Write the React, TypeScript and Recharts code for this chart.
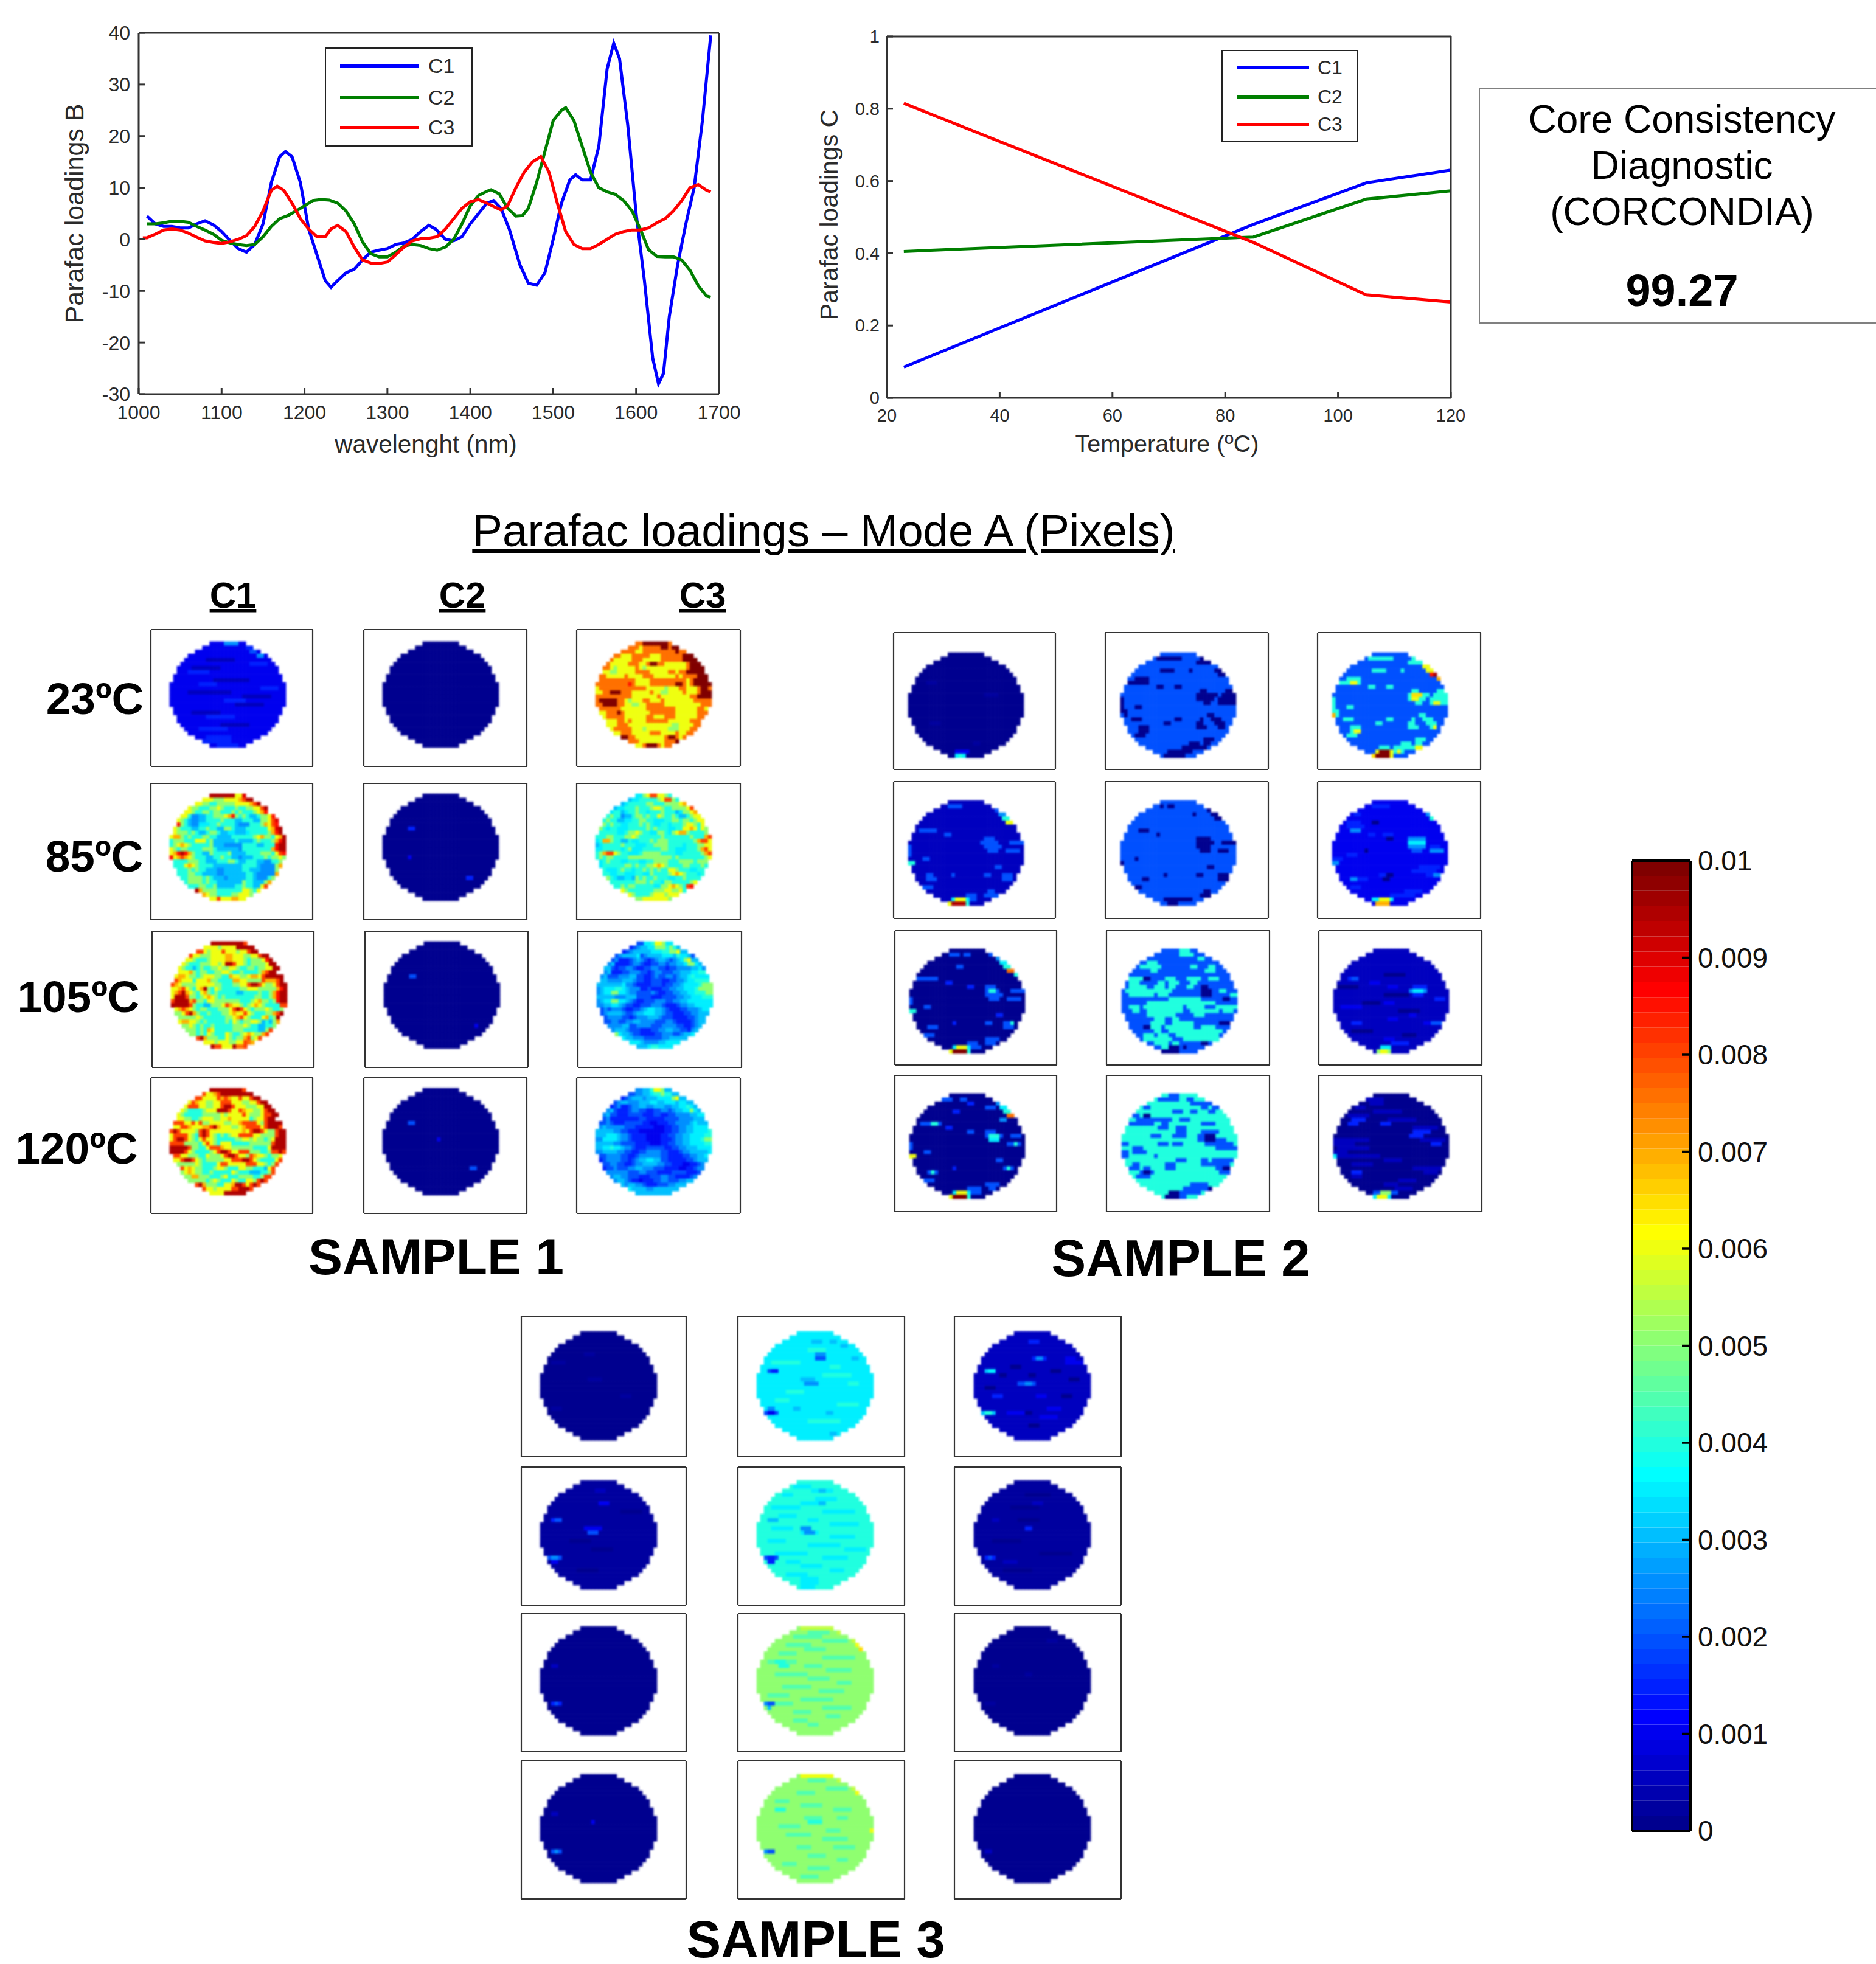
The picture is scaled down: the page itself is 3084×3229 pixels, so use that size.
import React from 'react';
import { LineChart, Line, XAxis, YAxis, Legend, ScatterChart, Scatter, BarChart, Bar } from 'recharts';

const FONT = '"Liberation Sans", Arial, sans-serif';
const INK = '#2a2a2a';
const BLUE = '#0000ff';
const GREEN = '#007f00';
const RED = '#ff0000';

// ---------- Mode B loadings ----------
const c1Nm = [1010,1020,1030,1040,1050,1060,1070,1080,1090,1100,1110,1120,1130,1140,1150,1160,1170,1177,1185,1195,1205,1215,1225,1232,1240,1250,1260,1270,1280,1290,1300,1310,1320,1330,1340,1350,1358,1370,1380,1390,1400,1410,1420,1428,1437,1447,1460,1470,1480,1490,1500,1510,1520,1527,1535,1545,1555,1565,1573,1580,1590,1600,1610,1620,1627,1633,1640,1650,1660,1670,1680,1690];
const c1B = [4.5,3,2.5,2.5,2.2,2.2,3,3.6,2.8,1.5,-0.2,-1.8,-2.5,-1,3,11,16,17,16,11,2,-3,-8,-9.3,-8,-6.5,-5.8,-4,-2.5,-2.1,-1.8,-1,-0.7,0,1.5,2.7,2,0,-0.3,0.5,3,5,7,7.5,6,2,-5,-8.5,-8.9,-6.5,0,7,11.5,12.5,11.5,11.5,18,33,38,35,22,5,-8,-23,-28,-26,-15,-5,3,10,23,39.5];
const c2Nm = [1010,1020,1030,1040,1050,1060,1070,1080,1090,1100,1110,1120,1130,1140,1150,1160,1170,1180,1190,1200,1210,1220,1230,1240,1250,1260,1270,1280,1290,1300,1310,1320,1330,1340,1350,1360,1370,1380,1390,1400,1410,1420,1425,1435,1445,1455,1463,1470,1480,1490,1500,1510,1515,1525,1535,1545,1555,1565,1575,1585,1595,1605,1615,1625,1635,1645,1655,1665,1675,1685,1690];
const c2B = [3,3,3.2,3.5,3.5,3.3,2.5,1.8,1,-0.2,-0.7,-1,-1.2,-1,0.5,2.5,4,4.6,5.5,6.5,7.5,7.7,7.6,7,5.5,3,-0.5,-2.8,-3.4,-3.4,-2.5,-1.3,-1,-1.2,-1.8,-2.1,-1.5,0,3,6.5,8.5,9.3,9.6,8.8,6,4.5,4.6,6,11,17,23,25,25.5,23,18,13,10,9.2,8.7,7.5,5.5,2,-2,-3.3,-3.4,-3.4,-4,-6,-9,-11,-11.2];
const c3Nm = [1005,1010,1020,1030,1040,1050,1060,1070,1080,1090,1100,1110,1120,1130,1140,1150,1160,1167,1175,1185,1195,1205,1215,1225,1232,1240,1250,1260,1270,1280,1290,1300,1310,1320,1330,1340,1350,1360,1370,1380,1390,1400,1410,1420,1430,1437,1445,1455,1465,1475,1485,1495,1505,1515,1525,1535,1545,1555,1565,1575,1585,1595,1605,1615,1625,1635,1645,1655,1665,1675,1685,1690];
const c3B = [0.3,0.3,1,1.8,2,1.8,1.2,0.4,-0.3,-0.6,-0.8,-0.5,0,0.7,2.5,5.5,9.5,10.3,9.5,7,4,2,0.5,0.5,2,2.7,1.5,-1.5,-4,-4.6,-4.7,-4.4,-3,-1.5,-0.3,0.1,0.2,0.5,2,4,6,7.3,7.7,7,6.2,5.7,6.5,10,13,15,16,13,7,1.5,-1,-1.8,-1.8,-1,0,1,1.5,1.8,1.8,2.2,3.2,4,5.5,7.5,10,10.6,9.5,9.2];
const bXTicks = [1000,1100,1200,1300,1400,1500,1600,1700];
const bYTicks = [-30,-20,-10,0,10,20,30,40];

// ---------- Mode C loadings ----------
const temperatures = [23,85,105,120];
const c1C = [0.085,0.48,0.595,0.63];
const c2C = [0.405,0.445,0.55,0.573];
const c3C = [0.815,0.43,0.285,0.265];
const cXTicks = [20,40,60,80,100,120];
const cYTicks = [0,0.2,0.4,0.6,0.8,1];

// ---------- Colour bar ----------
const cbTicks = [0,0.001,0.002,0.003,0.004,0.005,0.006,0.007,0.008,0.009,0.01];
const cbMax = 0.01;

// ---------- Mode A loadings: per-pixel codes ----------
// '0'..'k' is value / 0.0005, 'z' is 0.00025. A panel is 26 rows, or [base code, "row col length code;..."]
const s1c1 = [
 ['2','4 10 8 1;6 6 8 1;9 12 10 1;12 5 12 1;13 20 8 1;15 18 8 1;17 6 8 1;20 14 8 1;0 15 4 5;1 21 2 3;2 22 2 4;3 24 2 5;5 22 5 3;7 5 6 3;10 8 5 3;11 25 5 3;14 15 6 3;18 10 8 3;21 8 8 3;23 10 7 3;24 9 8 3;25 13 6 3'],
 ["jjjjjjjcci","cccaaaccccegjj","ccaa88aaaaaccccegj","caa888aaca888a88aaccgj","cca88aa8aa888a8a888aceh","cc8556688aaaceha8a8668aach","ca8655668888a8886688866aacgi","ha865577788a88886555888aecgh","ca8886688a8866aa8666888888ceij","caaa8a8668aa86677666788888aehj","ceea8a888aa886666888888aceaa8cej","8aaa888ccc8a666666866668a888aehj","8aceca88888a66655555888866888hjj","ca8aa8888aaa8666666588888888ehjj","cehjhea8866a8888a66668888aaa8cgh","hcegeca8886688a88665666888a8aaca","8888aaa88666888aa866888665588ac","888ceca888866666666888865555aeg","888a8a886665566666886665555a","888aa8866665566666688655555e","88aaaa8a86665666668865558a","8aaaa8a886666666a88666ae","888aa88a6666688a8866cg","jeaaaa8888888cca8c","ecaa8888aaccca","ccgccceecc"],
 ["jjjjjjjjjg","ccccaccccjjjjj","ggcacccgcccaccgjj","gccaaacccceecccaaccgjj","cca888acccceeccca8aaachj","ca888aaaccacjjgcca8aaaacjj","ca8868a88aacaacca88aa8aaccjj","cccea8aa88aacca88a8888aegjj","ceecaa8acccaa88eccaaceecgjjjjj","geccc8ccceaa8888eeccaaaageeegj","gecaaaacccccaa888aaccgjjgcaacgjj","ccegca8ceja8ca88888aacccaaaaaehj","cegjeca8cea8a88888668888a88aehjj","cjjjgaa8aceca8a88888888aa88aehjj","gjjjjegaa8ccaaaaaaa888aceaa8ahjj","jjjjjga8866aaacgecca8aceca8888gg","cegeca8aa888aaacgjgca8aaaca88a","aacgjea88a888aaceccgca888aaegj","aaaaaca888888aacegca888ce8aj","ceecca8a88888a8ca8aacca686ae","aaca8a88a88888aaaca886688a","aaa8a8ec88888aaa888866ag","aa8a8ca888ca88acecaaeg","gjeaaa88ca8aaegacg","cccacccaaccgfe","jggcccjffg"],
 ["jjjjjjjjjg","gccegjjjjjjjjj","ggccccgegeccgccgjj","cgeccaaccgggcccaaccgjj","cgggccaaccgjjgcccaaaccjj","ca8888acccjjjgccgeccaacgjj","ca88888aaaaacaccccgcaaacggjj","ccaa88acccaacceccccc8accgjj","gggccgcgaaccccaacceggggcagjjjj","ccggeccceegjecccaaceggggcgjjjg","gjgccccagjgcccccccccecgjjgcaagjj","cggggca8gjgca8a8accggggccaaaagjj","cgjjgca8cgcca88888aaccacaa8acjjj","ggggaaaa8cgca8ccc88888aaaaaagjjj","jjjjjgaa88cgggeccaaaaaa8888cjjjj","jjjjgca8888acgjjgccgggaaa88aggjg","ggccaaa88caaacgjjgccagecca8aac","ccgjjgca8aaaaaccgggjjgca8888cg","aaaaaca8888cggcccccgggcca8ag","gcecaa888acca888ccaa8886cg","acecaa88a88888ca88866688ag","aaeeaaa888ac888aaaa88agg","aaaaa8aca888ca88ccagjg","gjeaaa88ccejjgcgjg","gccaccccggjjjg","ccccjjjjjj"],
];
const s1c2 = [
 ['0',''],
 ['0','8 7 2 3;15 7 1 2;20 23 2 3'],
 ['0','8 7 2 4;20 25 1 2'],
 ['0','8 7 2 4;19 24 2 4;12 15 1 2'],
];
const s1c3 = [
 ["ffkkkkkkkf","fffcfffffkkfkk","ffffccfffffffffkff","ffcccfffffcccffffffkkk","fcccccfffcccccffffffkkkk","fcccccfffccfkkffccccccfkkk","ffcacccccfcacccccccccccfkkkk","ccaacccccffffcccccffcffkkkkk","ffcccccfccccfffccccccfcffffkkk","ffffffffffccccffffffffffcfkkkk","fffffffffhfccccfffffffkkfcfkkkkk","cfffffffffffffcccccacccffcccfkkf","ccffkkkfffcccccfccaaccccfcccfkkk","ffffffffffcccccccfccccccccffkkkk","fkkkkkffcacccffcccfccccccccfffff","ffkkkkffccaaccfffffccccccccccfff","ffffffcccccccffffffffccccccffc","ccfffkfcccccccfffffffccccccfff","cfffffccccccffcccfffccccccff","cccffcfccccffffffccccccfff","cccfffccccccccccccaaccccff","cfffffcccaccccccaaacccff","ccfffcccccfffccccfccff","kkffccccccccfkkfcf","fffcccccccfffk","ccfkkkfcff"],
 ["77acggcca8","67788888acgga8","6788888aa888aaaace","677888a888acca88aaaacg","7886788a887888a88867aace","8a885668aa8a88ca88a8668acc","8a88667788aa8877788aa8aa8acc","a8a8877888a8a877887888acca8c","a878877788888a8a8887788ccec8ca","88888778aaca8877aa87aceea8888a","888aa888aaca888888a8888888a888eg","78eea8866877888a8aaa8888888aeggc","6788888a88877788aaaa88887888aacc","778888878a77788888aa88777888aegc","8aeggca887778aaaaa88887788888aeg","8a8aa8888aaaaaaaaaaaa8a8888888ac","78a888778887788aaaa888aaaa8aaa","7888888aa8a88aaceca8888aa888a8","87778a88788a8a8a88cca8887788","8877887778877a8888aceca88878","a8766776a8a88a8887788a8888","8888888aaa8a887aa88888ac","88a8aa8888877aaceca8gh","ca8888888aaaccaac8","ca8888acccaccc","aaccccccca"],
 ["44778cca77","3456677aaa8a86","3456666677788aac66","4566667456666777687764","45333456543456654567ac66","5633334554334455455667aa76","6643445543344554434455556675","5633344555443455444556667788","564445556644334544554566787777","665555666544334443344556778888","66666667554333344434455677778aaa","5677788765553343334455667778aaaa","5677aa776554444543344556677888aa","66666555666444433344445566777888","5677aa77654334445554455667777777","55667765443344455543334556677777","454555433445677665433344555677","456666544566777665443334455666","4555544345556665444333344566","4455445566555544455433334566","55556644555544455554433456","566654443334455665544356","a766544333344555445667","766555444445566666","77765555667777","6667887777"],
 ["55668cca66","445566788a8866","34566656667777ac66","4566555666776677767766","345334556655666556677876","56433345544334455456677a76","5644333444433344334455556677","4533333333443333344445555666","445433344444332233344555567666","565555544433333222334455667777","66666554433322222223344556677778","66677765543333222233445566777788","557777655433332222333455667778aa","66666554444333322233445566777788","66778776554333444443344556667777","55666655443344555544333455666667","445555443345555554433334455667","345555443456677664433333445666","4455443345566665544333223345","3445444556655544433332233455","55555544455444333344443334","566554443334445544333345","5665433233344554445566","656655433344455666","76666556666666","6666666666"],
];
const s2c1 = [
 ['0','7 5 3 z;10 21 4 z;17 6 3 z;22 18 2 z;24 13 4 2;25 13 3 7;25 14 1 8'],
 ['1','1 11 4 4;7 3 5 4;8 10 2 4;9 21 3 4;10 20 5 4;11 21 5 4;12 22 3 4;10 28 4 4;12 27 4 4;11 0 1 4;12 0 1 4;13 0 1 4;15 0 2 8;14 4 2 4;16 24 2 4;16 31 1 4;18 12 1 4;18 21 2 4;18 5 2 4;19 5 3 4;18 26 3 4;19 26 3 4;21 4 3 4;23 16 3 4;24 16 3 4;22 22 2 4;23 21 4 4;24 12 5 7;24 13 3 c;25 12 4 j;25 11 1 c;25 16 1 8;2 24 2 4;3 25 2 5;4 26 2 8;5 27 2 c'],
 ['0','1 11 3 4;1 15 2 4;4 13 2 4;7 2 6 4;8 10 2 3;9 16 2 3;9 21 3 4;10 21 4 4;10 22 2 8;11 21 5 4;12 22 3 4;10 28 4 4;12 27 4 4;12 0 1 4;13 0 1 4;15 0 2 8;14 4 2 4;16 24 2 3;18 12 1 3;18 21 2 4;18 26 3 4;18 28 1 8;19 5 3 4;19 26 3 4;21 4 3 4;23 16 3 4;24 16 4 4;22 21 4 4;23 21 3 4;24 12 5 7;24 13 3 c;25 12 4 k;25 11 1 c;25 16 1 8;1 22 2 4;2 24 2 5;3 25 2 7;4 26 2 8;5 27 2 f;6 29 1 8'],
 ['0','1 9 3 4;1 14 2 4;2 16 2 3;3 21 3 4;4 12 2 3;6 25 2 5;7 3 2 4;7 4 5 4;7 6 2 8;8 10 2 3;9 16 2 4;9 21 3 4;10 21 5 4;10 22 3 8;11 22 3 7;12 27 4 4;12 29 1 8;10 28 3 4;12 0 1 4;13 0 1 4;14 4 2 4;15 0 2 c;16 24 2 4;18 12 1 3;18 26 3 4;18 27 1 8;19 5 3 4;19 6 1 8;21 4 3 4;23 16 4 4;24 16 4 4;22 21 4 4;23 22 2 4;24 12 5 7;24 13 3 c;25 12 4 k;25 11 1 c;25 16 1 8;2 24 2 5;3 25 2 7;4 26 2 8;5 27 2 f'],
];
const s2c2 = [
 ['4','1 10 7 0;2 21 6 0;1 22 3 0;5 27 3 0;4 26 3 0;4 11 4 0;4 19 1 0;6 4 4 0;7 2 6 0;8 10 2 0;8 15 2 0;9 22 2 0;10 21 6 0;11 21 5 0;12 23 2 0;10 28 4 0;11 27 5 0;12 27 5 0;9 29 2 0;11 0 1 0;12 0 1 0;13 0 1 0;14 0 2 0;15 1 1 0;13 4 2 0;16 3 3 0;18 5 3 0;19 5 3 0;20 4 3 0;16 15 2 0;17 12 2 0;16 22 1 0;17 21 2 0;18 21 3 0;15 24 2 0;16 25 3 0;17 26 3 0;18 27 2 0;16 31 1 0;25 12 6 0;24 13 7 0;23 17 4 0;22 19 3 0;22 23 2 0;21 23 3 0;23 21 3 0'],
 ['4','1 13 2 0;1 11 1 0;3 20 1 0;2 24 2 0;3 25 2 0;4 26 2 0;7 5 3 0;8 10 1 0;9 21 4 0;10 21 5 0;11 21 4 0;12 22 3 0;10 28 4 0;12 27 3 0;15 0 1 0;14 4 1 0;16 24 2 0;18 12 1 0;18 21 2 0;18 27 3 0;19 27 3 0;19 6 2 0;21 4 2 0;23 22 3 0;22 23 2 0;24 12 5 0;25 13 3 0;24 17 3 0'],
 ['4','0 16 3 8;1 16 4 8;2 21 2 8;3 7 3 8;4 5 6 8;4 19 2 8;4 24 2 8;5 8 2 8;5 23 3 8;7 2 4 8;7 12 3 8;7 18 4 8;7 24 3 8;8 2 3 8;8 10 2 8;8 13 3 8;8 19 2 8;9 2 5 8;9 9 3 8;9 13 2 8;9 18 2 8;10 1 10 8;10 11 3 8;10 27 2 8;11 2 7 8;11 10 3 8;11 30 2 8;12 13 9 8;13 7 9 8;13 16 10 8;14 2 3 8;14 6 5 8;14 11 6 8;14 18 5 8;14 26 6 8;15 3 2 8;15 7 10 8;15 19 8 8;15 28 3 8;16 7 8 8;16 20 3 8;17 9 3 8;17 14 2 8;18 8 4 8;18 14 6 8;19 8 3 8;19 12 8 8;19 22 4 8;20 9 2 8;20 13 15 8;21 6 3 8;21 10 3 8;21 15 12 8;22 6 8 8;22 17 8 8;22 25 3 8;23 9 4 8;23 14 2 8;24 11 3 8;9 22 2 0;10 22 3 0;11 22 3 0;12 28 2 0;7 6 2 0;19 6 2 0;18 27 3 0;25 11 5 0;24 13 3 0;23 22 2 0;24 17 1 0'],
 ['8','0 13 3 4;1 10 6 4;1 18 2 4;2 19 6 4;3 22 2 4;3 6 2 4;3 25 3 4;4 14 3 4;4 19 2 4;4 24 2 4;5 3 2 4;6 4 6 4;6 10 4 4;6 16 3 4;7 2 7 4;7 11 2 4;7 22 4 4;8 10 3 4;8 15 3 4;9 15 3 4;9 22 5 4;10 8 3 4;10 14 4 4;10 21 5 4;11 21 8 4;12 0 2 4;12 10 3 4;12 14 3 4;12 23 8 4;13 3 3 4;13 26 6 4;14 0 2 4;14 3 4 4;15 0 2 4;15 9 1 4;16 15 3 4;16 22 2 4;16 25 6 4;17 3 2 4;17 12 3 4;17 22 3 4;17 25 5 4;18 2 3 4;18 6 2 4;18 12 3 4;18 26 5 4;19 5 4 4;19 27 3 4;20 4 4 4;23 17 8 4;24 13 9 4;25 13 5 4;22 19 5 4;5 6 2 0;10 23 3 0;11 23 3 0;18 28 2 0;19 6 2 0;25 12 4 0;24 13 3 0;23 24 1 0'],
];
const s2c3 = [
 ['4','1 10 7 8;2 21 5 8;1 22 2 8;4 11 4 8;4 19 1 8;5 27 3 8;6 4 4 8;7 2 6 8;8 10 2 8;8 15 2 8;9 22 2 8;10 21 6 8;11 21 5 8;12 23 2 8;10 28 4 8;11 27 5 8;12 27 5 8;9 29 2 8;11 0 1 8;12 0 1 8;13 0 1 8;14 0 2 8;15 0 2 8;13 4 2 8;16 3 3 8;18 5 3 8;19 5 3 8;20 4 3 8;16 15 2 8;17 12 2 8;16 22 1 8;17 21 2 8;18 21 3 8;15 24 2 8;16 25 3 8;17 26 3 8;18 27 2 8;16 31 1 8;23 17 4 8;22 19 3 8;22 23 2 8;21 23 3 8;23 21 3 8;24 17 3 8;7 5 2 c;10 22 3 d;11 22 2 c;12 28 2 c;19 6 2 c;18 28 1 c;15 0 1 e;23 23 2 c;24 18 1 c;23 13 3 8;24 12 5 c;24 13 3 k;25 11 1 d;25 12 4 k;25 16 1 c;3 25 2 c;4 26 2 c;5 27 2 h;5 28 1 j;6 29 1 e'],
 ['2','1 11 5 3;3 6 2 3;5 4 4 3;6 4 5 3;7 5 3 5;8 10 2 3;8 14 3 3;9 21 5 5;10 21 5 7;11 21 5 5;12 22 3 4;12 27 4 5;11 27 3 3;14 0 3 3;13 4 3 3;15 0 2 5;16 24 6 3;17 22 7 3;18 26 4 3;18 28 2 5;19 5 4 5;18 13 3 3;19 7 3 3;21 5 3 3;22 20 5 3;23 16 7 3;24 11 6 7;24 13 3 c;25 12 4 e;4 27 1 8;3 26 1 5;5 11 2 0;9 15 2 0;12 9 1 0;18 15 2 0;19 14 2 0'],
 ['1','7 4 3 3;7 5 2 4;8 10 3 2;9 15 3 2;9 22 4 3;10 21 5 5;10 22 3 7;11 22 3 3;12 28 3 3;14 2 6 2;13 14 3 2;18 25 5 2;18 27 3 4;18 5 3 3;17 15 3 2;16 21 2 2;22 14 3 2;23 16 5 3;24 13 3 7;25 12 4 a;25 13 2 c;3 27 1 5;4 28 1 7;9 1 6 0;11 14 7 0;13 8 5 0;15 18 6 0;20 5 6 0;21 19 4 0;6 14 6 0'],
 ['0','1 8 6 1;2 10 4 1;3 6 3 1;4 11 8 1;5 4 6 1;6 5 4 3;7 4 3 3;6 15 8 1;7 13 3 3;8 22 7 1;9 22 5 3;10 21 4 3;11 24 7 1;12 27 3 3;11 0 10 1;12 0 6 1;13 1 9 1;14 0 4 1;15 1 12 1;15 0 1 7;16 14 5 1;17 5 6 1;18 22 8 1;19 5 3 3;19 25 4 1;20 5 3 1;21 18 5 1;22 14 4 1;23 17 5 1;24 11 7 4;24 13 3 a;25 11 1 7;25 12 3 c;25 15 1 7;3 27 1 7'],
];
const s3c1 = [
 ['0','7 3 4 z;18 3 3 z;11 13 4 z;15 22 3 z;5 12 3 z'],
 ['z','9 3 3 3;9 4 2 4;11 12 5 2;12 13 3 4;18 2 4 4;19 3 2 2;18 3 2 5;5 16 3 2;2 15 3 1;14 8 6 0;7 22 6 0;16 14 6 0;21 10 6 0'],
 ['0','9 3 2 1;18 3 3 3;18 4 1 4'],
 ['0','9 3 2 1;18 3 3 4;18 4 1 5;11 14 1 2'],
];
const s3c2 = [
 ['7','7 4 8 8;14 8 5 8;10 18 8 8;21 14 9 8;17 22 6 8;4 14 5 8;8 20 3 8;12 25 3 8;16 5 4 8;9 3 3 4;9 4 2 3;19 2 4 4;19 3 2 2;18 3 2 5;11 12 4 6;12 13 4 5;5 16 3 5;6 16 3 4;2 15 3 6;6 26 2 6;2 20 2 6;18 10 2 6;19 19 2 6;24 20 2 6;3 23 2 6'],
 ['8','1 10 5 7;2 15 6 7;3 7 3 7;4 16 6 7;5 12 5 7;6 4 8 7;7 18 9 7;8 6 5 7;9 14 3 7;10 20 8 7;11 4 6 7;12 12 5 7;13 20 7 7;14 3 5 7;15 14 9 7;16 24 6 7;17 5 9 7;18 18 7 7;19 8 4 7;20 12 6 7;21 20 4 7;22 8 6 7;23 12 5 7;24 12 5 7;25 12 4 7;9 3 3 6;11 12 3 5;12 13 3 5;18 2 4 4;19 3 2 3;18 3 2 3;5 17 2 6;2 17 2 6'],
 ['a','1 14 6 9;2 10 8 9;3 18 7 9;4 8 7 9;5 13 6 9;6 6 5 9;7 18 9 9;8 3 8 9;9 13 5 9;10 19 7 9;11 5 9 9;12 14 6 9;13 22 4 9;14 7 8 9;15 17 7 9;16 3 6 9;17 12 9 9;18 5 5 9;19 18 8 9;20 10 5 9;21 19 4 9;22 10 4 9;23 14 3 9;8 5 3 8;9 6 3 8;18 2 3 5;18 3 2 4;19 3 1 6;0 12 9 b;1 22 4 b;4 27 1 c;5 28 1 d;3 26 1 b'],
 ['a','1 14 5 9;3 19 6 9;4 11 5 9;6 5 4 9;7 12 6 9;8 5 3 8;8 21 5 9;10 13 5 9;10 22 3 9;11 14 4 8;12 6 6 9;13 19 4 9;14 8 7 9;15 18 7 9;17 11 4 9;17 21 6 9;19 14 5 9;20 22 3 9;21 7 4 9;22 14 6 9;24 12 5 9;18 2 3 5;18 3 2 4;0 12 9 c;1 22 3 b;3 26 1 b;4 27 1 c;13 31 1 c'],
];
const s3c3 = [
 ['1','8 10 3 0;10 7 2 0;9 21 3 0;11 26 3 0;18 21 3 0;22 15 3 0;10 15 2 0;15 24 3 0;19 13 3 0;13 3 3 0;9 3 3 6;9 4 2 7;19 2 4 6;19 3 2 8;12 12 5 4;12 14 2 5;6 16 4 3;6 17 2 5;2 15 3 3;15 5 3 3;19 9 5 2;7 25 5 2;6 25 3 2;20 18 5 2;15 17 3 2;18 20 4 2'],
 ['z','14 5 8 0;9 12 6 0;21 8 8 0;6 10 8 0;17 18 9 0;3 14 7 0;18 3 3 3;18 4 1 4;11 14 2 3;5 16 3 1;9 5 2 1;19 8 4 1'],
 ['0','18 3 3 z;11 14 2 z;3 20 3 z;9 5 2 z'],
 ['0','18 3 2 1'],
];

// ---------- Colour map, layout ----------
const CODES = '0123456789abcdefghijk';
const ROW_LEN = [10,14,18,22,24,26,28,28,30,30,32,32,32,32,32,32,30,30,28,28,26,24,22,18,14,10];
const GRID_COLS = 32;
const GRID_ROWS = 26;

function jet(i: number): string {
  const t = (i + 1) / 64;
  const ch = (c: number) => {
    const v = Math.max(0, Math.min(1, 1.5 - Math.abs(4 * t - c)));
    return Math.round(v * 255).toString(16).padStart(2, '0');
  };
  return '#' + ch(3) + ch(2) + ch(1);
}
const codeValue = (c: string) => (c === 'z' ? 0.00025 : CODES.indexOf(c) * 0.0005);
const valueColor = (v: number) => jet(Math.min(63, Math.floor((v / cbMax) * 64)));

function pointsOf(panel: any[]) {
  const rows: string[] = [];
  if (panel.length === 2) {
    const grid = ROW_LEN.map((L) => Array(L).fill(panel[0]));
    String(panel[1]).split(';').filter(Boolean).forEach((s) => {
      const [r, c, n, code] = s.split(' ');
      const start = (GRID_COLS - ROW_LEN[+r]) / 2;
      for (let k = 0; k < +n; k++) {
        const idx = +c + k - start;
        if (idx >= 0 && idx < ROW_LEN[+r]) grid[+r][idx] = code;
      }
    });
    grid.forEach((g) => rows.push(g.join('')));
  } else {
    panel.forEach((s) => rows.push(s));
  }
  const pts: { col: number; row: number; v: number }[] = [];
  rows.forEach((s, r) => {
    const L = ROW_LEN[r];
    const text = s.length > L ? s.slice(Math.floor((s.length - L) / 2), Math.floor((s.length - L) / 2) + L) : s;
    const start = Math.floor((GRID_COLS - text.length) / 2);
    for (let i = 0; i < text.length; i++) pts.push({ col: start + i + 0.5, row: r + 0.5, v: codeValue(text[i]) });
  });
  return pts;
}

function Panel({ panel, x0, x1, y0, y1, left, top, cw, ch }: any) {
  const w = x1 - x0;
  const h = y1 - y0;
  const cellW = cw / GRID_COLS;
  const cellH = ch / GRID_ROWS;
  const xd = [-left / cellW, (w - left) / cellW];
  const yd = [-top / cellH, (h - top) / cellH];
  const xt = [xd[0] + 0.376 * (xd[1] - xd[0]), xd[0] + 0.77 * (xd[1] - xd[0])];
  const yt = [yd[0] + 0.335 * (yd[1] - yd[0]), yd[0] + 0.675 * (yd[1] - yd[0])];
  const pad = 4;
  const axis = { stroke: '#333', strokeWidth: 2.2 };
  const tl = { stroke: '#333', strokeWidth: 2 };
  return (
    <div style={{ position: 'absolute', left: x0 - pad, top: y0 - pad }}>
      <ScatterChart width={w + 2 * pad} height={h + 2 * pad} margin={{ top: pad - 1, right: pad - 1, bottom: pad - 1, left: pad - 1 }}>
        <XAxis xAxisId="b" type="number" dataKey="col" domain={xd} ticks={xt} interval={0} height={1} tick={false} tickSize={-5} axisLine={axis} tickLine={tl} allowDataOverflow />
        <XAxis xAxisId="t" orientation="top" type="number" dataKey="col" domain={xd} ticks={xt} interval={0} height={1} tick={false} tickSize={-5} axisLine={axis} tickLine={tl} allowDataOverflow />
        <YAxis yAxisId="l" type="number" dataKey="row" reversed domain={yd} ticks={yt} interval={0} width={1} tick={false} tickSize={-5} axisLine={axis} tickLine={tl} allowDataOverflow />
        <YAxis yAxisId="r" orientation="right" type="number" dataKey="row" reversed domain={yd} ticks={yt} interval={0} width={1} tick={false} tickSize={-5} axisLine={axis} tickLine={tl} allowDataOverflow />
        <Scatter
          xAxisId="b"
          yAxisId="l"
          data={pointsOf(panel)}
          isAnimationActive={false}
          className="heat"
          shape={(p: any) => (
            <rect x={p.cx - cellW / 2 - 0.3} y={p.cy - cellH / 2 - 0.3} width={cellW + 0.6} height={cellH + 0.6} fill={valueColor(p.payload.v)} />
          )}
        />
      </ScatterChart>
    </div>
  );
}

function T({ x, y, size, bold, underline, color, children }: any) {
  return (
    <div
      style={{
        position: 'absolute', left: x, top: y, transform: 'translate(-50%,-50%)', whiteSpace: 'nowrap',
        fontFamily: FONT, fontSize: size, fontWeight: bold ? 700 : 400, lineHeight: 0.85, color: color || '#000',
        textDecoration: underline ? 'underline' : 'none',
      }}
    >
      {children}
    </div>
  );
}

function legendContent(box: any) {
  return ({ payload }: any) => (
    <div style={{ position: 'relative', width: box.w, height: box.h, background: '#fff', border: '2.5px solid #222', boxSizing: 'border-box' }}>
      {(payload || []).map((e: any, i: number) => (
        <div key={e.value}>
          <div style={{ position: 'absolute', left: box.lineX, top: box.rowY[i] - 2, width: box.lineW, height: 5, background: e.color }} />
          <div style={{ position: 'absolute', left: box.textX, top: box.rowY[i] - 17, fontFamily: FONT, fontSize: box.size, lineHeight: '34px', color: INK }}>{e.value}</div>
        </div>
      ))}
    </div>
  );
}

const seriesPoints = (xs: number[], ys: number[]) => xs.map((x, i) => ({ x, y: ys[i] }));

function LoadingsB() {
  const W = 1240, H = 780, L = 228, R = 1182, Tp = 54, B = 648;
  const ax = { stroke: '#333', strokeWidth: 3 };
  const tk = { fontFamily: FONT, fontSize: 32, fill: INK };
  const box = { w: 243, h: 163, lineX: 23, lineW: 130, rowY: [28, 80, 129], textX: 168, size: 34 };
  return (
    <div style={{ position: 'absolute', left: 0, top: 0 }}>
      <LineChart width={W} height={H} margin={{ top: Tp - 1, left: L - 1, right: W - R - 1, bottom: H - B - 1 }}>
        <XAxis xAxisId="b" type="number" dataKey="x" domain={[1000, 1700]} ticks={bXTicks} interval={0} height={1} tickSize={-10} tickMargin={28} tick={tk} axisLine={ax} tickLine={ax}
          label={{ value: 'wavelenght (nm)', position: 'bottom', offset: 66, dx: -5, style: { fontFamily: FONT, fontSize: 40.5, fill: INK } }} />
        <XAxis xAxisId="t" orientation="top" type="number" domain={[1000, 1700]} ticks={bXTicks} interval={0} height={1} tickSize={-10} tick={false} axisLine={ax} tickLine={ax} />
        <YAxis yAxisId="l" type="number" domain={[-30, 40]} ticks={bYTicks} interval={0} width={1} tickSize={-10} tickMargin={24} tick={tk} axisLine={ax} tickLine={ax}
          label={{ value: 'Parafac loadings B', angle: -90, position: 'left', offset: 105, style: { textAnchor: 'middle', fontFamily: FONT, fontSize: 43, fill: INK } }} />
        <YAxis yAxisId="r" orientation="right" type="number" domain={[-30, 40]} ticks={bYTicks} interval={0} width={1} tickSize={-10} tick={false} axisLine={ax} tickLine={ax} />
        <Legend layout="vertical" align="center" verticalAlign="middle" wrapperStyle={{ left: 534, top: 78, width: box.w, height: box.h }} content={legendContent(box)} />
        <Line xAxisId="b" yAxisId="l" name="C1" data={seriesPoints(c1Nm, c1B)} dataKey="y" stroke={BLUE} strokeWidth={5} dot={false} isAnimationActive={false} />
        <Line xAxisId="b" yAxisId="l" name="C2" data={seriesPoints(c2Nm, c2B)} dataKey="y" stroke={GREEN} strokeWidth={5} dot={false} isAnimationActive={false} />
        <Line xAxisId="b" yAxisId="l" name="C3" data={seriesPoints(c3Nm, c3B)} dataKey="y" stroke={RED} strokeWidth={5} dot={false} isAnimationActive={false} />
      </LineChart>
    </div>
  );
}

function LoadingsC() {
  const X0 = 1300, W = 1130, H = 780, L = 1458 - X0, R = 2385 - X0, Tp = 60, B = 654;
  const ax = { stroke: '#333', strokeWidth: 3 };
  const tk = { fontFamily: FONT, fontSize: 29, fill: INK };
  const box = { w: 224, h: 152, lineX: 23, lineW: 119, rowY: [27, 75, 120], textX: 156, size: 32 };
  const data = temperatures.map((t, i) => ({ t, c1: c1C[i], c2: c2C[i], c3: c3C[i] }));
  return (
    <div style={{ position: 'absolute', left: X0, top: 0 }}>
      <LineChart width={W} height={H} data={data} margin={{ top: Tp - 1, left: L - 1, right: W - R - 1, bottom: H - B - 1 }}>
        <XAxis xAxisId="b" type="number" dataKey="t" domain={[20, 120]} ticks={cXTicks} interval={0} height={1} tickSize={-10} tickMargin={28} tick={tk} axisLine={ax} tickLine={ax}
          label={{ value: 'Temperature (ºC)', position: 'bottom', offset: 60, dx: -3, style: { fontFamily: FONT, fontSize: 39.5, fill: INK } }} />
        <XAxis xAxisId="t" orientation="top" type="number" domain={[20, 120]} ticks={cXTicks} interval={0} height={1} tickSize={-10} tick={false} axisLine={ax} tickLine={ax} />
        <YAxis yAxisId="l" type="number" domain={[0, 1]} ticks={cYTicks} interval={0} width={1} tickSize={-10} tickMargin={22} tick={tk} axisLine={ax} tickLine={ax}
          label={{ value: 'Parafac loadings C', angle: -90, position: 'left', offset: 95, dy: -4, style: { textAnchor: 'middle', fontFamily: FONT, fontSize: 41, fill: INK } }} />
        <YAxis yAxisId="r" orientation="right" type="number" domain={[0, 1]} ticks={cYTicks} interval={0} width={1} tickSize={-10} tick={false} axisLine={ax} tickLine={ax} />
        <Legend layout="vertical" align="center" verticalAlign="middle" wrapperStyle={{ left: 2008 - X0, top: 82, width: box.w, height: box.h }} content={legendContent(box)} />
        <Line xAxisId="b" yAxisId="l" name="C1" dataKey="c1" stroke={BLUE} strokeWidth={5} dot={false} isAnimationActive={false} />
        <Line xAxisId="b" yAxisId="l" name="C2" dataKey="c2" stroke={GREEN} strokeWidth={5} dot={false} isAnimationActive={false} />
        <Line xAxisId="b" yAxisId="l" name="C3" dataKey="c3" stroke={RED} strokeWidth={5} dot={false} isAnimationActive={false} />
      </LineChart>
    </div>
  );
}

function ColorBar() {
  const X0 = 2660, Y0 = 1390, W = 300, H = 1650;
  const L = 2683 - X0, R = 2779 - X0, Tp = 1415 - Y0, B = 3010 - Y0;
  const levels = Array.from({ length: 64 }, (_, i) => i);
  const row: any = { name: 'colorbar' };
  levels.forEach((i) => { row['L' + i] = cbMax / 64; });
  const ax = { stroke: '#000', strokeWidth: 4 };
  const tl = { stroke: '#000', strokeWidth: 3.5 };
  return (
    <div style={{ position: 'absolute', left: X0, top: Y0 }}>
      <BarChart width={W} height={H} data={[row]} barCategoryGap={0} barGap={0} margin={{ top: Tp - 1, left: L - 1, right: W - R - 1, bottom: H - B - 1 }}>
        <XAxis xAxisId="b" dataKey="name" height={1} tick={false} tickLine={false} axisLine={ax} />
        <XAxis xAxisId="t" orientation="top" dataKey="name" height={1} tick={false} tickLine={false} axisLine={ax} />
        <YAxis yAxisId="l" type="number" domain={[0, cbMax]} ticks={cbTicks} interval={0} width={1} tick={false} tickSize={-14} axisLine={ax} tickLine={tl} allowDataOverflow />
        <YAxis yAxisId="r" orientation="right" type="number" domain={[0, cbMax]} ticks={cbTicks} interval={0} width={1} tickSize={-14} tickMargin={26} axisLine={ax} tickLine={tl}
          tick={{ fontFamily: FONT, fontSize: 46, fill: '#111' }} tickFormatter={(v: number) => String(v)} allowDataOverflow />
        {levels.map((i) => (
          <Bar key={i} xAxisId="b" yAxisId="l" dataKey={'L' + i} stackId="jet" fill={jet(i)} isAnimationActive={false} />
        ))}
      </BarChart>
    </div>
  );
}

const S1 = { xs: [[248,514],[598,866],[948,1217]], ys: [[1035,1260],[1288,1512],[1531,1755],[1772,1995]], dx: [0,0,2,0], lefts: [31,31,31], tops: [20,17,17,17], cw: 191, chs: [174,176,176,176], cols: [s1c1,s1c2,s1c3] };
const S2 = { xs: [[1469,1735],[1817,2085],[2166,2434]], ys: [[1040,1265],[1285,1510],[1530,1751],[1768,1992]], dx: [0,0,2,2], lefts: [24,25,24], tops: [33,31,30,30], cw: 190, chs: [173,173,172,173], cols: [s2c1,s2c2,s2c3] };
const S3 = { xs: [[857,1128],[1213,1487],[1569,1843]], ys: [[2164,2395],[2412,2639],[2653,2880],[2895,3122]], dx: [0,0,0,0], lefts: [31,31,32], tops: [25,22,21,22], cw: 192, chs: [179,179,179,179], cols: [s3c1,s3c2,s3c3] };

function Sample({ s }: any) {
  return (
    <>
      {s.cols.map((col: any[], c: number) =>
        col.map((panel: any, r: number) => (
          <Panel
            key={c + '-' + r}
            panel={panel}
            x0={s.xs[c][0] + s.dx[r]}
            x1={s.xs[c][1] + s.dx[r]}
            y0={s.ys[r][0]}
            y1={s.ys[r][1]}
            left={s.lefts[c]}
            top={s.tops[r]}
            cw={s.cw}
            ch={s.chs[r]}
          />
        ))
      )}
    </>
  );
}

export default function App() {
  return (
    <div style={{ position: 'absolute', left: 0, top: 0, width: 3084, height: 3229, overflow: 'hidden', background: '#fff' }}>
      <style>{'.heat { filter: blur(1.6px); }'}</style>
      <LoadingsB />
      <LoadingsC />
      <div style={{ position: 'absolute', left: 2431, top: 144, width: 700, height: 388, border: '2px solid #808080', boxSizing: 'border-box' }} />
      <T x={2765} y={196} size={64}>Core Consistency</T>
      <T x={2765} y={272} size={64}>Diagnostic</T>
      <T x={2765} y={348} size={64}>(CORCONDIA)</T>
      <T x={2765} y={478} size={74} bold>99.27</T>
      <T x={1354} y={873} size={74.5} underline>Parafac loadings – Mode A (Pixels)</T>
      <T x={383} y={978} size={60} bold underline>C1</T>
      <T x={760} y={978} size={60} bold underline>C2</T>
      <T x={1155} y={978} size={60} bold underline>C3</T>
      <T x={156} y={1149} size={73} bold>23ºC</T>
      <T x={155} y={1408} size={73} bold>85ºC</T>
      <T x={129} y={1639} size={73} bold>105ºC</T>
      <T x={126} y={1888} size={73} bold>120ºC</T>
      <Sample s={S1} />
      <Sample s={S2} />
      <Sample s={S3} />
      <T x={717} y={2067} size={84} bold>SAMPLE 1</T>
      <T x={1941} y={2069} size={85} bold>SAMPLE 2</T>
      <T x={1341} y={3189} size={85} bold>SAMPLE 3</T>
      <ColorBar />
    </div>
  );
}
